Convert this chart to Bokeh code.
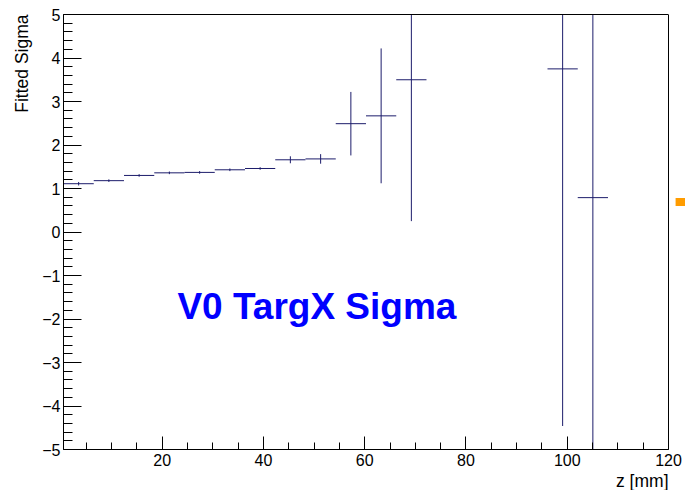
from bokeh.plotting import figure
from bokeh.models import (Range1d, SingleIntervalTicker, FixedTicker, Label, Title, Span,
                          LinearAxis, ColumnDataSource)
from bokeh.embed import file_html
from bokeh.resources import INLINE

# ---- data ----
bin_centers = [3.49, 9.46, 15.44, 21.41, 27.39, 33.36, 39.34, 45.31, 51.29,
               57.26, 63.24, 69.21, 99.09, 105.06]
bin_width = 5.975
sigma = [1.11, 1.18, 1.30, 1.36, 1.37, 1.43, 1.46, 1.66, 1.68,
         2.49, 2.67, 3.50, 3.75, 0.79]
sigma_err = [0.04, 0.03, 0.03, 0.03, 0.03, 0.03, 0.03, 0.08, 0.11,
             0.73, 1.55, 3.25, 8.21, 7.00]

# small orange marker seen just right of the frame (x/y extents in axis units)
marker_x = [121.4, 123.4]
marker_y = [0.60, 0.78]

x_lo, x_hi = 0.5, 120
y_lo, y_hi = -5, 5
y_ticks = [-5, -4, -3, -2, -1, 0, 1, 2, 3, 4, 5]
y_tick_labels = ["\u22125", "\u22124", "\u22123", "\u22122", "\u22121", "0", "1", "2", "3", "4", "5"]
x_ticks = [20, 40, 60, 80, 100, 120]
x_tick_labels = ["20", "40", "60", "80", "100", "120"]

title_text = "V0 TargX Sigma"
title_pos = (23, -1.72)
x_title = "z [mm]"
y_title = "Fitted Sigma"

FONT = "Liberation Sans"
LINE = "#1c1c6b"
ORANGE = "#ff9c00"

src = ColumnDataSource(dict(
    xl=[c - bin_width / 2 for c in bin_centers],
    xr=[c + bin_width / 2 for c in bin_centers],
    xc=bin_centers,
    y=sigma,
    ylo=[v - e for v, e in zip(sigma, sigma_err)],
    yhi=[v + e for v, e in zip(sigma, sigma_err)],
))

# frame extended to the right canvas edge so the orange marker can be drawn;
# the visible ROOT frame (x 0.5..120) is drawn with bounded axes and a span.
FRAME_L, FRAME_R = 63, 668
CANVAS_W, CANVAS_H = 685, 490
px_per_unit = (FRAME_R - FRAME_L) / (x_hi - x_lo)
x_ext = x_lo + (CANVAS_W - FRAME_L) / px_per_unit

p = figure(width=CANVAS_W, height=CANVAS_H, output_backend="svg", toolbar_location=None,
           x_range=Range1d(x_lo, x_ext), y_range=Range1d(y_lo, y_hi),
           min_border_left=FRAME_L, min_border_right=0, min_border_top=14, min_border_bottom=40)

p.grid.visible = False
p.background_fill_color = "white"
p.border_fill_color = "white"
p.outline_line_color = None

# error bars
p.segment(x0="xl", x1="xr", y0="y", y1="y", source=src, line_color=LINE, line_width=1)
p.segment(x0="xc", x1="xc", y0="ylo", y1="yhi", source=src, line_color=LINE, line_width=1)

# orange marker
p.quad(left=[marker_x[0]], right=[marker_x[1]], bottom=[marker_y[0]], top=[marker_y[1]],
       fill_color=ORANGE, line_color=None)

# axes
for ax in (p.xaxis[0], p.yaxis[0]):
    ax.axis_line_color = "black"
    ax.major_tick_line_color = "black"
    ax.minor_tick_line_color = "black"
    ax.major_tick_out = 0
    ax.minor_tick_out = 0
    ax.major_label_text_font = FONT
    ax.major_label_text_font_size = "16px"
    ax.major_label_text_color = "black"
    ax.major_label_standoff = 3

p.xaxis.bounds = (x_lo, x_hi)
p.xaxis.ticker = SingleIntervalTicker(interval=20, num_minor_ticks=4)
p.xaxis.major_tick_in = 13
p.xaxis.minor_tick_in = 7
p.xaxis.major_label_standoff = 4
p.xaxis.major_label_overrides = {t: s for t, s in zip(x_ticks, x_tick_labels)}

p.yaxis.ticker = SingleIntervalTicker(interval=1, num_minor_ticks=5)
p.yaxis.major_tick_in = 18
p.yaxis.minor_tick_in = 9
p.yaxis.major_label_overrides = {t: s for t, s in zip(y_ticks, y_tick_labels)}

# top border of the frame
top = LinearAxis(bounds=(x_lo, x_hi), ticker=FixedTicker(ticks=[]),
                 axis_line_color="black", major_tick_in=0, major_tick_out=0,
                 minor_tick_in=0, minor_tick_out=0, major_label_text_font_size="0px")
p.add_layout(top, "above")
# right border of the frame
p.add_layout(Span(location=x_hi, dimension="height", line_color="black", line_width=1))

# big in-frame title
p.add_layout(Label(x=title_pos[0], y=title_pos[1], text=title_text, text_font=FONT,
                   text_font_size="37px", text_font_style="bold", text_color="#0000ff",
                   text_align="left", text_baseline="alphabetic"))

# axis titles (right / top aligned, ROOT style)
p.add_layout(Title(text=x_title, align="right", offset=CANVAS_W - FRAME_R, text_font=FONT,
                   text_font_size="17.5px", text_font_style="normal", text_color="black",
                   standoff=0), "below")
p.add_layout(Title(text=y_title, align="right", text_font=FONT, text_font_size="17.5px",
                   text_font_style="normal", text_color="black", standoff=15), "left")

open("out.html", "w").write(file_html(p, INLINE))
